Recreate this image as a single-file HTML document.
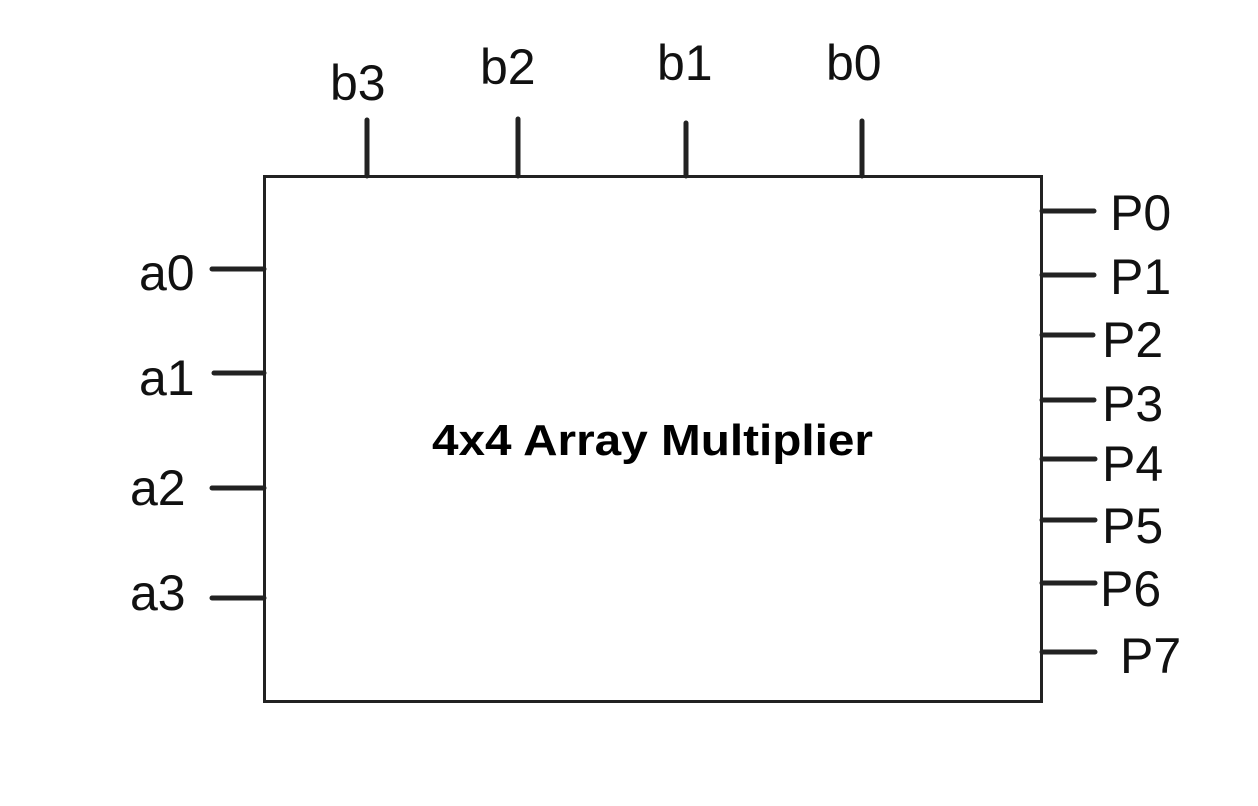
<!DOCTYPE html>
<html><head><meta charset="utf-8"><style>
html,body{margin:0;padding:0;background:#fff;}
svg{display:block;}
.l{font-family:"Liberation Sans",sans-serif;font-size:50px;fill:#111;}
</style></head><body>
<svg width="1258" height="806" viewBox="0 0 1258 806" xmlns="http://www.w3.org/2000/svg">
<rect x="264.5" y="176.5" width="777" height="525" fill="#fff" stroke="#222" stroke-width="3"/>
<g stroke="#222" stroke-width="5" stroke-linecap="round">
<line x1="367" y1="120" x2="367" y2="176"/>
<line x1="518" y1="119" x2="518" y2="176"/>
<line x1="686" y1="123" x2="686" y2="176"/>
<line x1="862" y1="121" x2="862" y2="176"/>
<line x1="212" y1="269" x2="264" y2="269"/>
<line x1="214" y1="373" x2="264" y2="373"/>
<line x1="212" y1="488" x2="264" y2="488"/>
<line x1="212" y1="598" x2="264" y2="598"/>
<line x1="1042" y1="211" x2="1094" y2="211"/>
<line x1="1042" y1="275" x2="1094" y2="275"/>
<line x1="1042" y1="335" x2="1093" y2="335"/>
<line x1="1042" y1="400" x2="1094" y2="400"/>
<line x1="1042" y1="459" x2="1095" y2="459"/>
<line x1="1042" y1="520" x2="1095" y2="520"/>
<line x1="1042" y1="583" x2="1095" y2="583"/>
<line x1="1042" y1="652" x2="1095" y2="652"/>
</g>
<text class="l" x="330" y="100">b3</text>
<text class="l" x="480" y="84">b2</text>
<text class="l" x="657" y="80">b1</text>
<text class="l" x="826" y="80">b0</text>
<text class="l" x="139" y="290">a0</text>
<text class="l" x="139" y="395">a1</text>
<text class="l" x="130" y="505">a2</text>
<text class="l" x="130" y="610">a3</text>
<text class="l" x="1110" y="230">P0</text>
<text class="l" x="1110" y="294">P1</text>
<text class="l" x="1102" y="357">P2</text>
<text class="l" x="1102" y="421">P3</text>
<text class="l" x="1102" y="481">P4</text>
<text class="l" x="1102" y="543">P5</text>
<text class="l" x="1100" y="606">P6</text>
<text class="l" x="1120" y="673">P7</text>
<text x="432" y="455" font-family="Liberation Sans, sans-serif" font-weight="bold" font-size="44" fill="#000" textLength="441" lengthAdjust="spacingAndGlyphs">4x4 Array Multiplier</text>
</svg>
</body></html>
